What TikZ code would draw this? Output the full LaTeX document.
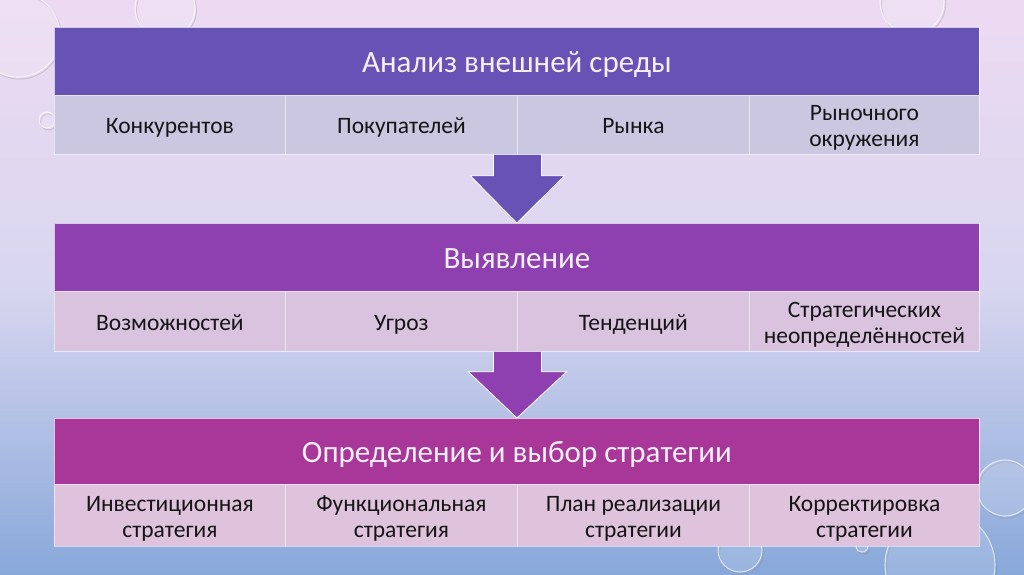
\documentclass[tikz,border=0pt]{standalone}
\usepackage{fontspec}
\setmainfont{Carlito}
\usetikzlibrary{calc}
\definecolor{hdrA}{HTML}{6753B5}
\definecolor{hdrB}{HTML}{8E3FB0}
\definecolor{hdrC}{HTML}{A93699}
\definecolor{rowA}{HTML}{CBC7E1}
\definecolor{rowB}{HTML}{D9C3DF}
\definecolor{rowC}{HTML}{DFC2DC}
\definecolor{bgtop}{HTML}{EDDAF2}
\definecolor{bgmid}{HTML}{D8D6EF}
\definecolor{bgbot}{HTML}{88A8DA}
\definecolor{txt}{HTML}{151515}
\definecolor{hdrtxt}{HTML}{F4F0FA}
\newcommand\hdrstrut{\vrule width 0pt height 29pt depth 7pt\relax}
\newcommand\oneline[1]{\vrule width 0pt height 22pt depth 4pt\relax\smash{#1}}
\newcommand\twolines[2]{\vrule width 0pt height 22pt depth 0pt\relax\smash{#1}\\\smash{#2}\vrule width 0pt height 0pt depth 4pt\relax}
\tikzset{
  hdrbox/.style={draw=white, draw opacity=0.7, line width=0.8pt, minimum height=68pt, minimum width=925pt, inner sep=0pt, font=\fontsize{31}{36}\selectfont, text=hdrtxt, anchor=north west, execute at begin node=\hdrstrut},
  cellbox/.style={draw=white, draw opacity=0.55, line width=0.8pt, minimum width=231pt, inner sep=0pt, align=center, font=\fontsize{23.5}{26}\selectfont, text=txt, anchor=north west},
  blockarrow/.style={draw=white, line width=0.8pt, line join=miter},
  bubble/.style={draw=white, draw opacity=0.65, line width=1.1pt, fill=white, fill opacity=0.15},
  bubbleshadow/.style={draw=gray, draw opacity=0.28, line width=1pt}
}
\begin{document}
\begin{tikzpicture}[x=1pt,y=-1pt]
\useasboundingbox (0,0) rectangle (1024,574);
% background
\shade[top color=bgtop, bottom color=bgbot, middle color=bgmid, shading angle=0] (0,0) rectangle (1024,574);
% bubbles
\foreach \cx/\cy/\r in {18/35/42, 165/8/30, 47/120/8, 912/2/32, 1005/488/28, 940/565/55, 740/550/22, 862/546/6}{
  \draw[bubbleshadow] (\cx+1.5,\cy+2) circle (\r);
  \draw[bubble] (\cx,\cy) circle (\r);
}
% table 1
\node[hdrbox, fill=hdrA] (h1) at (54,27) {Анализ внешней среды};
\node[cellbox, fill=rowA, minimum height=59pt, minimum width=231pt] (c11) at (54,95) {\oneline{Конкурентов}};
\node[cellbox, fill=rowA, minimum height=59pt, minimum width=232pt] (c12) at (285,95) {\oneline{Покупателей}};
\node[cellbox, fill=rowA, minimum height=59pt, minimum width=232pt] (c13) at (517,95) {\oneline{Рынка}};
\node[cellbox, fill=rowA, minimum height=59pt, minimum width=230pt] (c14) at (749,95) {\twolines{Рыночного}{окружения}};
% table 2
\node[hdrbox, fill=hdrB] (h2) at (54,223) {Выявление};
\node[cellbox, fill=rowB, minimum height=60pt, minimum width=231pt] (c21) at (54,291) {\oneline{Возможностей}};
\node[cellbox, fill=rowB, minimum height=60pt, minimum width=232pt] (c22) at (285,291) {\oneline{Угроз}};
\node[cellbox, fill=rowB, minimum height=60pt, minimum width=232pt] (c23) at (517,291) {\oneline{Тенденций}};
\node[cellbox, fill=rowB, minimum height=60pt, minimum width=230pt] (c24) at (749,291) {\twolines{Стратегических}{неопределённостей}};
% table 3
\node[hdrbox, fill=hdrC, minimum height=66pt] (h3) at (54,418) {Определение и выбор стратегии};
\node[cellbox, fill=rowC, minimum height=62pt, minimum width=231pt] (c31) at (54,484) {\twolines{Инвестиционная}{стратегия}};
\node[cellbox, fill=rowC, minimum height=62pt, minimum width=232pt] (c32) at (285,484) {\twolines{Функциональная}{стратегия}};
\node[cellbox, fill=rowC, minimum height=62pt, minimum width=232pt] (c33) at (517,484) {\twolines{План реализации}{стратегии}};
\node[cellbox, fill=rowC, minimum height=62pt, minimum width=230pt] (c34) at (749,484) {\twolines{Корректировка}{стратегии}};
% arrows
\coordinate (a1s) at ($(c12.south east)!0.5!(c13.south west)$);
\coordinate (a1t) at (h2.north);
\draw[blockarrow, fill=hdrA] ($(a1s)+(-24,0)$) -- ($(a1s)+(-24,21)$) -- ($(a1s)+(-47,21)$) -- (a1t) -- ($(a1s)+(47,21)$) -- ($(a1s)+(24,21)$) -- ($(a1s)+(24,0)$);
\coordinate (a2s) at ($(c22.south east)!0.5!(c23.south west)$);
\coordinate (a2t) at (h3.north);
\draw[blockarrow, fill=hdrB] ($(a2s)+(-24,0)$) -- ($(a2s)+(-24,20)$) -- ($(a2s)+(-49,20)$) -- (a2t) -- ($(a2s)+(49,20)$) -- ($(a2s)+(24,20)$) -- ($(a2s)+(24,0)$);
\end{tikzpicture}
\end{document}
